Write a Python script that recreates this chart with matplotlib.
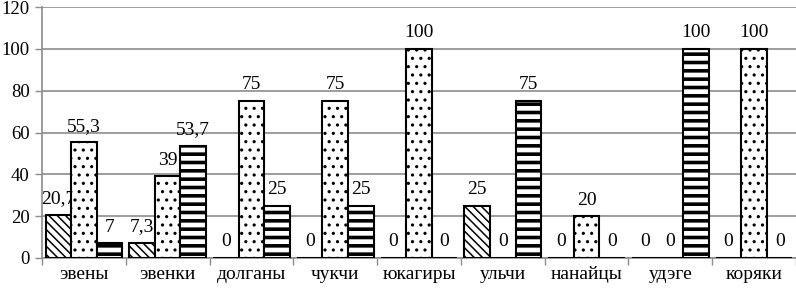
import matplotlib
matplotlib.use("Agg")
import matplotlib.pyplot as plt
import numpy as np

plt.rcParams['font.family'] = ['Liberation Serif', 'DejaVu Serif']

groups = ["эвены", "эвенки", "долганы", "чукчи", "юкагиры", "ульчи", "нанайцы", "удэге", "коряки"]
s1 = [20.7, 7.3, 0, 0, 0, 25, 0, 0, 0]
s2 = [55.3, 39, 75, 75, 100, 0, 20, 0, 100]
s3 = [7, 53.7, 25, 25, 0, 75, 0, 100, 0]

fs = 14
fig = plt.figure(figsize=(7.96, 2.91), dpi=100)
ax = fig.add_axes([42 / 796, 33 / 291, 754 / 796, 251 / 291])

x = np.arange(len(groups))
w = 0.305
grid_c = "#8c8c8c"

styles = [("\\\\\\\\", 1.1), ("..", 1.1), ("--", 2.6)]
for i, (vals, (hatch, hlw)) in enumerate(zip([s1, s2, s3], styles)):
    bars = ax.bar(x + (i - 1) * w, vals, w, color="white", edgecolor="black",
                  linewidth=1.5, hatch=hatch, zorder=3)
    for b in bars:
        try:
            b.set_hatch_linewidth(hlw)
        except AttributeError:
            pass
    for xi, v in zip(x, vals):
        lab = ("%g" % v).replace(".", ",")
        ax.annotate(lab, (xi + (i - 1) * w, v), xytext=(0, 5.5), textcoords="offset points",
                    ha="center", va="bottom", fontsize=fs)

ax.set_xlim(-0.5, len(groups) - 0.5)
ax.set_ylim(0, 120)
ax.set_yticks(range(0, 121, 20))
ax.yaxis.grid(True, color=grid_c, linewidth=1.2, zorder=0)
ax.set_axisbelow(True)

ax.set_xticks(x)
ax.set_xticklabels(groups, fontsize=fs)
ax.set_xticks(np.arange(-0.5, len(groups), 1), minor=True)
ax.tick_params(axis="x", which="major", length=0, pad=6)
ax.tick_params(axis="x", which="minor", length=5, color=grid_c, width=1)
ax.tick_params(axis="y", length=5, color=grid_c, width=1, labelsize=13.5, pad=4)

for s in ["top", "right"]:
    ax.spines[s].set_visible(False)
for s in ["left", "bottom"]:
    ax.spines[s].set_color(grid_c)
    ax.spines[s].set_linewidth(1.2)

fig.savefig("out.png", dpi=100)
